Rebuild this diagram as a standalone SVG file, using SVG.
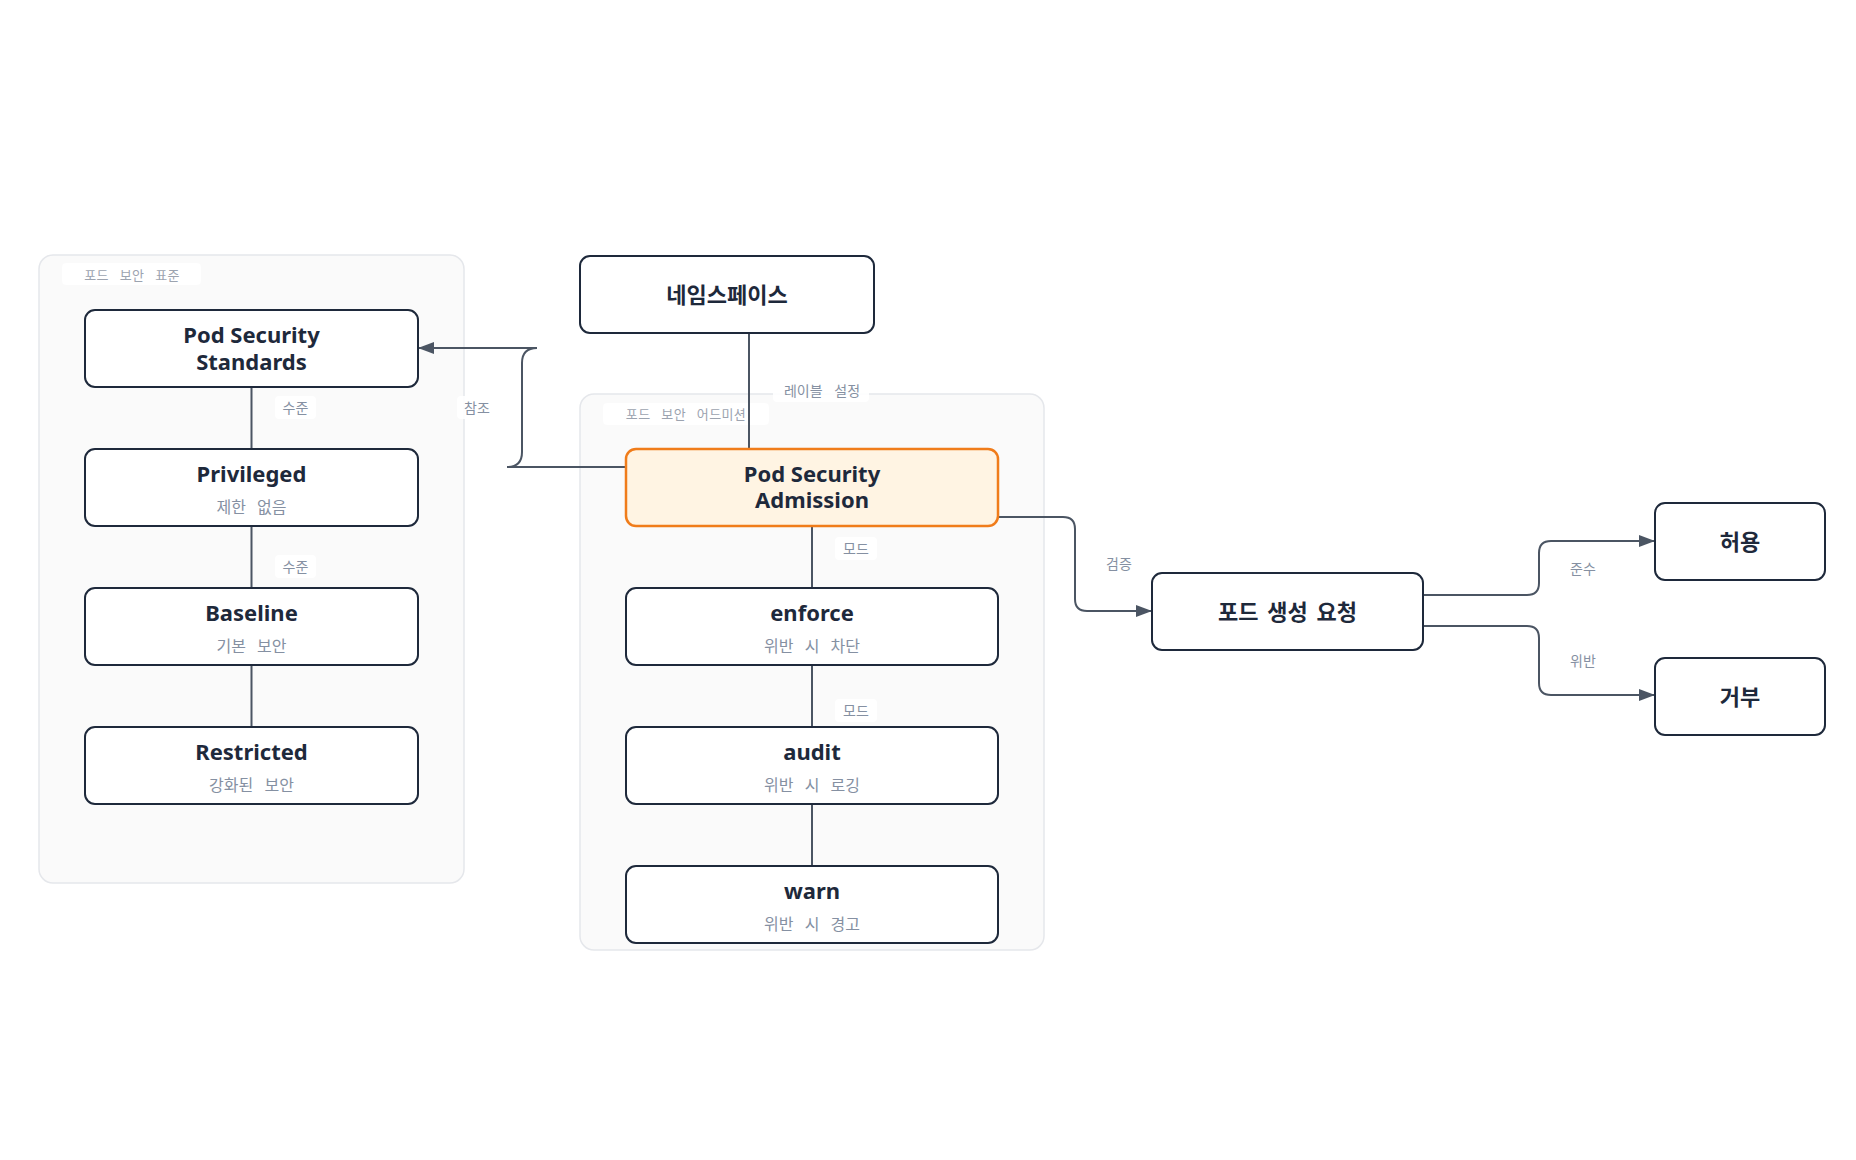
<svg xmlns="http://www.w3.org/2000/svg" width="1856" height="1160" viewBox="0 0 1856 1160">
<style>
.cluster{fill:#fafafa;stroke:#e5e7eb;stroke-width:1.5}
.clbg{fill:#ffffff;fill-opacity:0.85}
.cltxt{font-family:"Noto Sans","Noto Sans CJK KR",sans-serif;font-size:13px;fill:#9ca3af;letter-spacing:0.4px;word-spacing:7px;text-anchor:middle;dominant-baseline:central}
.node{fill:#ffffff;stroke:#1e293b;stroke-width:2}
.hl{fill:#fff4e3;stroke:#f07c1a;stroke-width:2.5}
.t{font-family:"Noto Sans","Noto Sans CJK KR",sans-serif;font-size:22px;font-weight:700;fill:#1e293b;text-anchor:middle}
.tk{font-family:"Noto Sans","Noto Sans CJK KR",sans-serif;font-size:22px;font-weight:700;fill:#1e293b;text-anchor:middle;dominant-baseline:central;word-spacing:3px}
.s{font-family:"Noto Sans","Noto Sans CJK KR",sans-serif;font-size:16px;fill:#8590a2;text-anchor:middle;word-spacing:7px}
.edge{fill:none;stroke:#4b5563;stroke-width:2}
.lbg{fill:#ffffff;fill-opacity:0.9}
.lt{font-family:"Noto Sans","Noto Sans CJK KR",sans-serif;font-size:14px;fill:#8590a2;text-anchor:middle;dominant-baseline:central;word-spacing:8px}
</style>
<defs>
<marker id="arr" markerWidth="16" markerHeight="12" refX="16" refY="6" orient="auto" markerUnits="userSpaceOnUse">
<path d="M0,0 L16,6 L0,12 z" fill="#4b5563"/>
</marker>
</defs>
<rect width="1856" height="1160" fill="#ffffff"/>

<g id="cluster-standards">
<rect class="cluster" x="39" y="255" width="425" height="628" rx="14"/>
<rect class="clbg" x="62" y="263" width="139" height="22" rx="4"/>
<text class="cltxt" x="132" y="275">포드 보안 표준</text>
</g>
<g id="cluster-admission">
<rect class="cluster" x="580" y="394" width="464" height="556" rx="14"/>
<rect class="clbg" x="603" y="403" width="166" height="22" rx="4"/>
<text class="cltxt" x="686" y="414">포드 보안 어드미션</text>
</g>

<g id="connectors">
<path class="edge" d="M251.5,387 V449"/>
<path class="edge" d="M251.5,526 V588"/>
<path class="edge" d="M251.5,665 V727"/>
<path class="edge" d="M749,333 V449"/>
<path class="edge" d="M812,526 V588"/>
<path class="edge" d="M812,665 V727"/>
<path class="edge" d="M812,804 V866"/>
<path class="edge" d="M626,467 L507,467 Q522,467 522,452 L522,363 Q522,348 537,348 L418,348" marker-end="url(#arr)"/>
<path class="edge" d="M998,517 H1063 Q1075,517 1075,529 V599 Q1075,611 1087,611 H1152" marker-end="url(#arr)"/>
<path class="edge" d="M1423,595 H1527 Q1539,595 1539,583 V553 Q1539,541 1551,541 H1655" marker-end="url(#arr)"/>
<path class="edge" d="M1423,626 H1527 Q1539,626 1539,638 V683 Q1539,695 1551,695 H1655" marker-end="url(#arr)"/>
<g id="edge-labels">
<rect class="lbg" x="275" y="396" width="41" height="23" rx="4"/>
<text class="lt" x="295.5" y="407">수준</text>
<rect class="lbg" x="275" y="555" width="41" height="23" rx="4"/>
<text class="lt" x="295.5" y="566">수준</text>
<rect class="lbg" x="457" y="396" width="40" height="23" rx="4"/>
<text class="lt" x="477" y="407">참조</text>
<rect class="lbg" x="773" y="379" width="96" height="23" rx="4"/>
<text class="lt" x="822" y="390">레이블 설정</text>
<rect class="lbg" x="835" y="537" width="42" height="23" rx="4"/>
<text class="lt" x="856" y="548">모드</text>
<rect class="lbg" x="835" y="699" width="42" height="23" rx="4"/>
<text class="lt" x="856" y="710">모드</text>
<text class="lt" x="1119" y="563">검증</text>
<text class="lt" x="1583" y="568">준수</text>
<text class="lt" x="1583" y="660">위반</text>
</g>
</g>

<g id="node-pss">
<rect class="node" x="85" y="310" width="333" height="77" rx="10"/>
<text class="t" x="251.5" y="343">Pod Security</text>
<text class="t" x="251.5" y="370">Standards</text>
</g>
<g id="node-privileged">
<rect class="node" x="85" y="449" width="333" height="77" rx="10"/>
<text class="t" x="251.5" y="482">Privileged</text>
<text class="s" x="251.5" y="513">제한 없음</text>
</g>
<g id="node-baseline">
<rect class="node" x="85" y="588" width="333" height="77" rx="10"/>
<text class="t" x="251.5" y="621">Baseline</text>
<text class="s" x="251.5" y="652">기본 보안</text>
</g>
<g id="node-restricted">
<rect class="node" x="85" y="727" width="333" height="77" rx="10"/>
<text class="t" x="251.5" y="760">Restricted</text>
<text class="s" x="251.5" y="791">강화된 보안</text>
</g>

<g id="node-namespace">
<rect class="node" x="580" y="256" width="294" height="77" rx="10"/>
<text class="tk" x="727" y="294">네임스페이스</text>
</g>
<g id="node-psa">
<rect class="hl" x="626" y="449" width="372" height="77" rx="10"/>
<text class="t" x="812" y="482">Pod Security</text>
<text class="t" x="812" y="508">Admission</text>
</g>
<g id="node-enforce">
<rect class="node" x="626" y="588" width="372" height="77" rx="10"/>
<text class="t" x="812" y="621">enforce</text>
<text class="s" x="812" y="652">위반 시 차단</text>
</g>
<g id="node-audit">
<rect class="node" x="626" y="727" width="372" height="77" rx="10"/>
<text class="t" x="812" y="760">audit</text>
<text class="s" x="812" y="791">위반 시 로깅</text>
</g>
<g id="node-warn">
<rect class="node" x="626" y="866" width="372" height="77" rx="10"/>
<text class="t" x="812" y="899">warn</text>
<text class="s" x="812" y="930">위반 시 경고</text>
</g>

<g id="node-podrequest">
<rect class="node" x="1152" y="573" width="271" height="77" rx="10"/>
<text class="tk" x="1287.5" y="611">포드 생성 요청</text>
</g>
<g id="node-allow">
<rect class="node" x="1655" y="503" width="170" height="77" rx="10"/>
<text class="tk" x="1740" y="541">허용</text>
</g>
<g id="node-deny">
<rect class="node" x="1655" y="658" width="170" height="77" rx="10"/>
<text class="tk" x="1740" y="696">거부</text>
</g>
</svg>
